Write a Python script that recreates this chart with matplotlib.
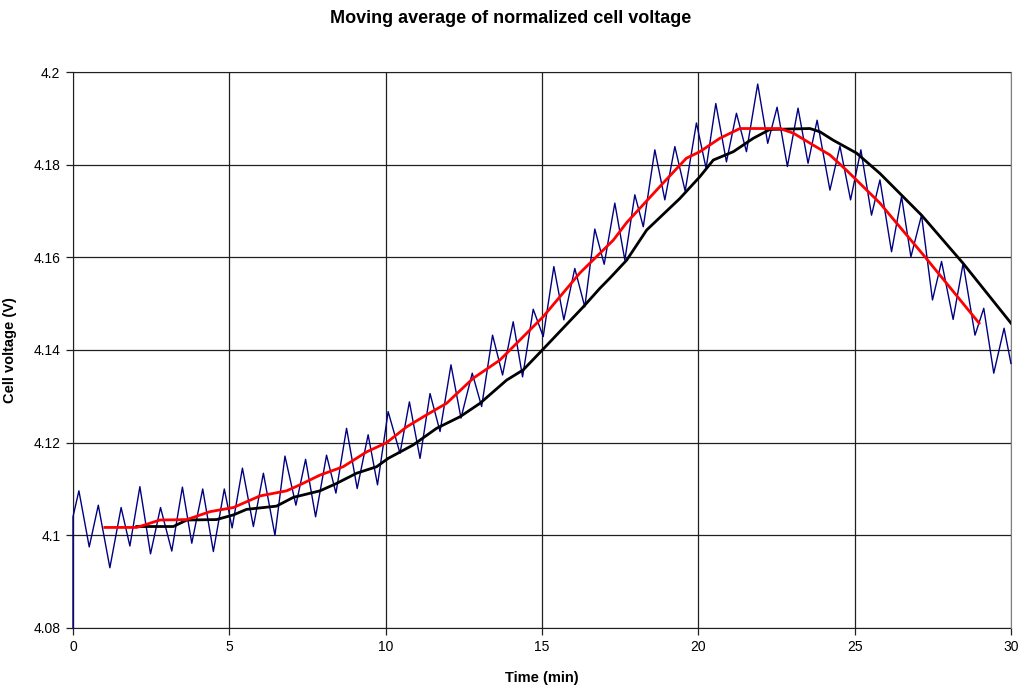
import matplotlib

matplotlib.use("Agg")
import matplotlib.pyplot as plt

plt.rcParams["font.family"] = ["Liberation Sans", "DejaVu Sans"]

# measured cell voltage, turning points of the ripple (min, V)
raw_t = [
    0.0, 0.0, 0.19, 0.52, 0.81, 1.18, 1.54, 1.82, 2.14, 2.48, 2.80, 3.16, 3.50, 3.80,
    4.15, 4.49, 4.84, 5.09, 5.42, 5.77, 6.09, 6.46, 6.78, 7.13, 7.44, 7.76, 8.11, 8.41,
    8.75, 9.09, 9.44, 9.74, 10.08, 10.46, 10.76, 11.10, 11.42, 11.74, 12.09, 12.41,
    12.77, 13.07, 13.42, 13.74, 14.08, 14.38, 14.72, 15.04, 15.38, 15.70, 16.05, 16.37,
    16.69, 16.99, 17.33, 17.65, 17.97, 18.24, 18.61, 18.93, 19.25, 19.58, 19.94, 20.25,
    20.56, 20.90, 21.22, 21.54, 21.90, 22.22, 22.52, 22.85, 23.19, 23.51, 23.80, 24.21,
    24.53, 24.87, 25.20, 25.54, 25.81, 26.18, 26.50, 26.80, 27.14, 27.49, 27.78, 28.15,
    28.47, 28.85, 29.13, 29.45, 29.78, 30.0,
]
raw_v = [
    4.080, 4.104, 4.1096, 4.0975, 4.1065, 4.0930, 4.1060, 4.0977, 4.1105, 4.0960, 4.1060,
    4.0966, 4.1104, 4.0983, 4.1100, 4.0965, 4.1100, 4.1016, 4.1145, 4.1019, 4.1134, 4.1000,
    4.1171, 4.1065, 4.1164, 4.1040, 4.1173, 4.1091, 4.1231, 4.1101, 4.1217, 4.1109, 4.1267,
    4.1177, 4.1288, 4.1166, 4.1306, 4.1224, 4.1368, 4.1253, 4.1350, 4.1278, 4.1432, 4.1346,
    4.1461, 4.1342, 4.1488, 4.1429, 4.1580, 4.1465, 4.1576, 4.1493, 4.1661, 4.1585, 4.1717,
    4.1594, 4.1735, 4.1666, 4.1832, 4.1724, 4.1839, 4.1743, 4.1890, 4.1792, 4.1932, 4.1806,
    4.1911, 4.1828, 4.1974, 4.1846, 4.1924, 4.1796, 4.1922, 4.1803, 4.1896, 4.1745, 4.1840,
    4.1724, 4.1832, 4.1691, 4.1767, 4.1612, 4.1731, 4.1601, 4.1691, 4.1508, 4.1591, 4.1466,
    4.1587, 4.1432, 4.1490, 4.1350, 4.1447, 4.1371,
]

# short moving average (red)
short_t = [
    1.02, 2.04, 2.78, 3.64, 4.38, 5.13, 5.98, 6.83, 7.26, 7.90, 8.64, 9.39, 10.03, 10.67,
    11.31, 11.95, 12.80, 13.65, 14.08, 15.04, 16.21, 17.28, 17.71, 18.87, 19.62, 20.05,
    20.69, 21.33, 22.61, 23.04, 23.68, 24.21, 24.74, 25.81, 26.13, 27.25, 27.94, 28.98,
]
short_v = [
    4.1017, 4.1017, 4.1033, 4.1034, 4.1051, 4.1060, 4.1085, 4.1096, 4.1109, 4.1130, 4.1148,
    4.1180, 4.1200, 4.1234, 4.1260, 4.1285, 4.1339, 4.1378, 4.1407, 4.1472, 4.1566, 4.1637,
    4.1675, 4.1760, 4.1814, 4.1828, 4.1857, 4.1878, 4.1878, 4.1868, 4.1842, 4.1821, 4.1788,
    4.1717, 4.1691, 4.1601, 4.1544, 4.1458,
]

# long moving average (black)
long_t = [
    2.04, 3.21, 3.64, 4.59, 5.13, 5.55, 6.51, 7.05, 7.90, 8.43, 9.07, 9.71, 10.08, 10.88,
    11.63, 12.38, 13.02, 13.87, 14.40, 15.04, 16.32, 16.85, 17.17, 17.71, 18.35, 19.41,
    20.05, 20.48, 21.12, 21.76, 22.29, 23.57, 23.89, 24.31, 25.06, 25.81, 27.14, 28.47, 30.0,
]
long_v = [
    4.1019, 4.1019, 4.1033, 4.1034, 4.1044, 4.1056, 4.1063, 4.1082, 4.1096, 4.1112, 4.1134,
    4.1148, 4.1166, 4.1195, 4.1231, 4.1256, 4.1285, 4.1335, 4.1357, 4.1402, 4.1493, 4.1533,
    4.1555, 4.1594, 4.1659, 4.1727, 4.1774, 4.1810, 4.1828, 4.1857, 4.1876, 4.1878, 4.1871,
    4.1853, 4.1825, 4.1781, 4.1691, 4.1587, 4.1458,
]

x_ticks = [0, 5, 10, 15, 20, 25, 30]
y_ticks = [4.08, 4.10, 4.12, 4.14, 4.16, 4.18, 4.20]
y_labels = ["4.08", "4.1", "4.12", "4.14", "4.16", "4.18", "4.2"]

fig = plt.figure(figsize=(10.22, 6.91), dpi=100)
ax = fig.add_axes([0.0714, 0.0912, 0.9178, 0.8046])

ax.plot(raw_t, raw_v, color="#000080", lw=1.0, zorder=3, clip_on=False)
ax.plot(long_t, long_v, color="black", lw=2.0, zorder=4)
ax.plot(short_t, short_v, color="#ff0000", lw=2.0, zorder=5)

ax.set_xlim(0, 30)
ax.set_ylim(4.08, 4.2)
ax.set_xticks(x_ticks)
ax.set_yticks(y_ticks)
ax.set_yticklabels(y_labels)
ax.grid(True, color="#202020", lw=0.9, zorder=1)
ax.set_axisbelow(True)
ax.tick_params(direction="out", length=5, width=0.9, color="#202020",
               labelsize=10, pad=4)
for side in ("left", "bottom", "top"):
    ax.spines[side].set_color("#202020")
    ax.spines[side].set_zorder(2)
ax.spines["right"].set_color("#808080")

ax.set_xlabel("Time (min)", fontsize=10.5, fontweight="bold", labelpad=12)
ax.set_ylabel("Cell voltage (V)", fontsize=10.5, fontweight="bold", labelpad=12)
fig.suptitle("Moving average of normalized cell voltage", fontsize=13,
             fontweight="bold", x=0.5, y=0.985)

fig.savefig("out.png", dpi=100)
